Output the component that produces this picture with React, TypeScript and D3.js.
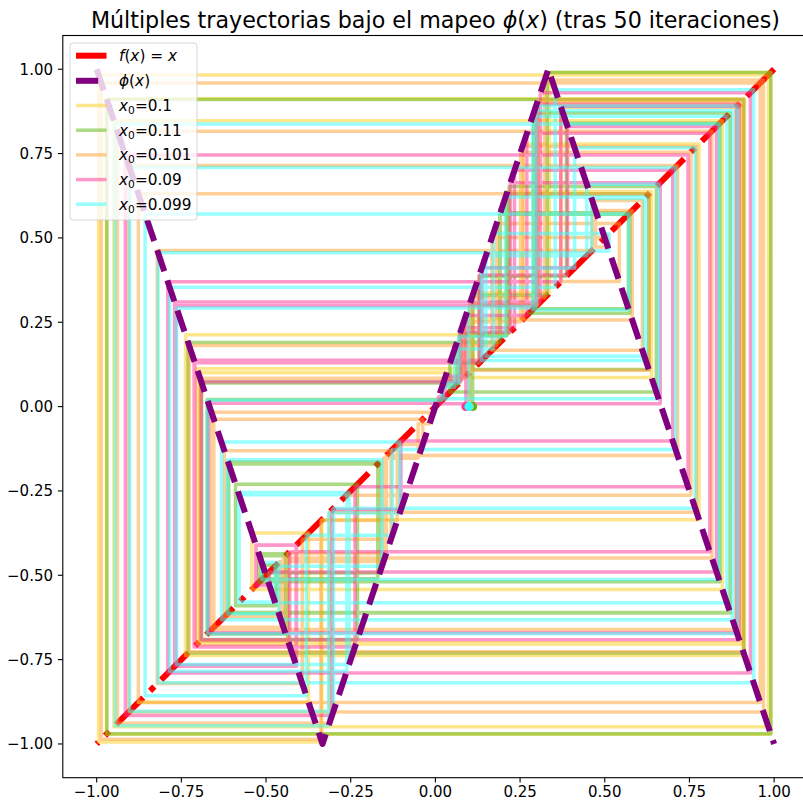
import React from "react";
import * as d3 from "d3";

// ---- data ----
const X0_VALUES = [0.1, 0.11, 0.101, 0.09, 0.099];
const X0_LABELS = ["0.1", "0.11", "0.101", "0.09", "0.099"];
const TRAJ_COLORS = ["#fbcd19", "#5ab40a", "#ffa032", "#ff3296", "#32ffff"];
const N_ITER = 50;
// piecewise-linear map phi: breakpoints
const PHI_X = [-1, -1 / 3, 1 / 3, 1];
const PHI_Y = [1, -1, 1, -1];
// identity line f(x) = x
const ID_X = [1, -1];
const TICKS = [-1, -0.75, -0.5, -0.25, 0, 0.25, 0.5, 0.75, 1];
const TITLE_A = "Múltiples trayectorias bajo el mapeo ";
const TITLE_B = ") (tras 50 iteraciones)";

// map defined by the breakpoints above (slopes -3, 3, -3)
function phi(x: number): number {
  if (x < PHI_X[1]) return -3 * x - 2;
  if (x <= PHI_X[2]) return 3 * x;
  return -3 * x + 2;
}

function cobweb(x0: number, n: number): [number, number][] {
  const pts: [number, number][] = [[x0, 0]];
  let x = x0;
  for (let i = 0; i < n; i++) {
    const y = phi(x);
    pts.push([x, y]);
    pts.push([y, y]);
    x = y;
  }
  return pts;
}

const W = 803;
const H = 800;
const L = 62.8;
const R = 808;
const T = 35.5;
const B = 777.7;

export default function App() {
  const xs = d3.scaleLinear().domain([-1.1, 1.1]).range([L, R]);
  const ys = d3.scaleLinear().domain([-1.1, 1.1]).range([B, T]);
  const line = d3
    .line<[number, number]>()
    .x((d) => xs(d[0]))
    .y((d) => ys(d[1]));

  const idPts: [number, number][] = ID_X.map((v) => [v, v]);
  const phiPts: [number, number][] = PHI_X.map((v, i) => [v, PHI_Y[i]]);
  const trajs = X0_VALUES.map((x0) => cobweb(x0, N_ITER));

  const font = "'DejaVu Sans', sans-serif";
  const fmt = (v: number) => (v < 0 ? "\u2212" : "") + Math.abs(v).toFixed(2);

  const lw = 6;
  const redDash = `${6.4 * lw} ${1.6 * lw} ${lw} ${1.6 * lw}`;
  const purDash = `${3.7 * lw} ${1.6 * lw}`;

  const legX = 70;
  const legY = 43;
  const rowY = [55.7, 80.8, 105.5, 130.2, 154.9, 179.6, 204.2];
  const hx0 = 76;
  const hx1 = 106.5;
  const tx = 119;
  const fs = 15.3;
  const tfs = 15;

  return (
    <svg
      width={W}
      height={H}
      style={{ position: "absolute", left: 0, top: 0, background: "#fff" }}
      fontFamily={font}
    >
      <defs>
        <clipPath id="plotclip">
          <rect x={L} y={T} width={R - L} height={B - T} />
        </clipPath>
      </defs>
      <rect x={0} y={0} width={W} height={H} fill="#fff" />
      <g clipPath="url(#plotclip)">
        <path
          d={line(idPts) || ""}
          fill="none"
          stroke="#ff0000"
          strokeWidth={lw}
          strokeDasharray={redDash}
          strokeLinecap="butt"
        />
        {trajs.map((pts, i) => (
          <path
            key={i}
            d={line(pts) || ""}
            fill="none"
            stroke={TRAJ_COLORS[i]}
            strokeOpacity={0.5}
            strokeWidth={3.5}
            strokeLinejoin="round"
            strokeLinecap="square"
          />
        ))}
        <path
          d={line(phiPts) || ""}
          fill="none"
          stroke="#800080"
          strokeWidth={lw}
          strokeDasharray={purDash}
          strokeLinecap="butt"
          strokeLinejoin="round"
        />
        {X0_VALUES.map((x0, i) => (
          <circle key={i} cx={xs(x0)} cy={ys(0)} r={4.5} fill={TRAJ_COLORS[i]} />
        ))}
      </g>
      {/* frame */}
      <rect x={L} y={T} width={R - L} height={B - T} fill="none" stroke="#000" strokeWidth={1.1} />
      {/* x ticks */}
      {TICKS.map((t) => (
        <g key={"x" + t}>
          <line x1={xs(t)} x2={xs(t)} y1={B} y2={B + 4.9} stroke="#000" strokeWidth={1.1} />
          <text x={xs(t)} y={797} fontSize={tfs} textAnchor="middle" fill="#000">
            {fmt(t)}
          </text>
        </g>
      ))}
      {/* y ticks */}
      {TICKS.map((t) => (
        <g key={"y" + t}>
          <line x1={L - 4.9} x2={L} y1={ys(t)} y2={ys(t)} stroke="#000" strokeWidth={1.1} />
          <text x={L - 9.8} y={ys(t) + 5.4} fontSize={tfs} textAnchor="end" fill="#000">
            {fmt(t)}
          </text>
        </g>
      ))}
      {/* title */}
      <text x={(L + R) / 2} y={28} fontSize={22.2} textAnchor="middle" fill="#000">
        {TITLE_A}
        <tspan fontStyle="italic">ϕ</tspan>(<tspan fontStyle="italic">x</tspan>
        {TITLE_B}
      </text>
      {/* legend */}
      <rect
        x={legX}
        y={legY}
        width={127}
        height={177}
        rx={3}
        fill="#fff"
        fillOpacity={0.8}
        stroke="#cccccc"
        strokeOpacity={0.8}
        strokeWidth={1}
      />
      <line x1={hx0} x2={hx1} y1={rowY[0]} y2={rowY[0]} stroke="#ff0000" strokeWidth={lw} strokeDasharray={redDash} />
      <text x={tx} y={rowY[0] + 5.5} fontSize={fs} fill="#000">
        <tspan fontStyle="italic">f</tspan>(<tspan fontStyle="italic">x</tspan>) = <tspan fontStyle="italic">x</tspan>
      </text>
      <line x1={hx0} x2={hx1} y1={rowY[1]} y2={rowY[1]} stroke="#800080" strokeWidth={lw} strokeDasharray={purDash} />
      <text x={tx} y={rowY[1] + 5.5} fontSize={fs} fill="#000">
        <tspan fontStyle="italic">ϕ</tspan>(<tspan fontStyle="italic">x</tspan>)
      </text>
      {X0_LABELS.map((lab, i) => (
        <g key={"leg" + i}>
          <line
            x1={hx0}
            x2={hx1}
            y1={rowY[i + 2]}
            y2={rowY[i + 2]}
            stroke={TRAJ_COLORS[i]}
            strokeOpacity={0.5}
            strokeWidth={3.5}
          />
          <text x={tx} y={rowY[i + 2] + 5.5} fontSize={fs} fill="#000">
            <tspan fontStyle="italic">x</tspan>
            <tspan fontSize={fs * 0.7} dy={3}>0</tspan>
            <tspan dy={-3}>={lab}</tspan>
          </text>
        </g>
      ))}
    </svg>
  );
}
